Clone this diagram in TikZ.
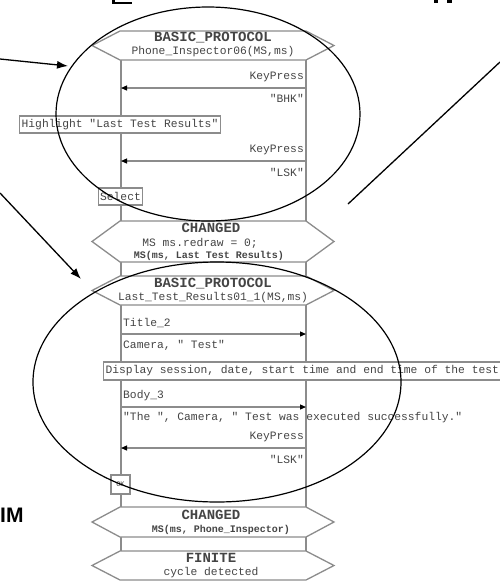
\documentclass[tikz,border=0pt]{standalone}
\usepackage{fontspec}
\setmainfont{Liberation Serif}
\setmonofont{Liberation Mono}
\newfontfamily\diagsans{Liberation Sans}
\usetikzlibrary{arrows.meta}

\definecolor{linegray}{HTML}{8C8C8C}
\definecolor{txtgray}{HTML}{444444}

\newcommand\msgfont{\ttfamily\fontsize{11.3}{12}\selectfont}
\newcommand\headfont{\ttfamily\bfseries\fontsize{14}{15}\selectfont}
\newcommand\statefont{\ttfamily\bfseries\fontsize{10}{11}\selectfont}

% hexagonal condition frame between the two lifelines: top y, bottom y
\newcommand\hexframe[2]{%
  \draw[hexline] (92,{(#1+#2)/2}) -- (120,#1) -- (306,#1) -- (334,{(#1+#2)/2})
    -- (306,#2) -- (120,#2) -- cycle;}

\begin{document}
\begin{tikzpicture}[x=1pt,y=-1pt,
  lifeline/.style={draw=linegray,line width=1.5pt},
  hexline/.style={draw=linegray,line width=1.3pt,fill=white},
  msgtext/.style={font=\msgfont,text=txtgray,inner sep=0pt},
  headtext/.style={font=\headfont,text=txtgray,inner sep=0pt},
  statetext/.style={font=\statefont,text=txtgray,inner sep=0pt},
  notebox/.style={draw=linegray,line width=1.3pt,fill=white,font=\msgfont,
    text=txtgray,inner xsep=2pt,inner ysep=0pt,minimum height=17pt},
  msgarrow/.style={draw=linegray,line width=1.2pt,
    -{Triangle[length=6pt,width=5pt,color=black]}},
  ring/.style={draw=black,line width=1.2pt},
  pointer/.style={draw=black,line width=1.3pt,-{Latex[length=11pt,width=8pt]}},
  plainline/.style={draw=black,line width=1.3pt}]

\useasboundingbox (0,0) rectangle (500,582);

% lower ends of heading glyphs cut off by the top edge
\fill (112,0) rectangle (115,4);
\fill (112,2) rectangle (132,4);
\fill (434,0) rectangle (438,3);
\fill (447,0) rectangle (452,3);

% lifelines
\coordinate (lt) at (121,60);
\coordinate (lb) at (121,551);
\coordinate (rt) at (306,60);
\coordinate (rb) at (306,551);
\draw[lifeline] (lt) -- (lb);
\draw[lifeline] (rt) -- (rb);

% condition frames
\hexframe{31}{60}
\node[headtext] (bp1) at (213,38) {BASIC\_PROTOCOL};
\node[msgtext] (bp1s) at (213,52) {Phone\_Inspector06(MS,ms)};

\hexframe{221}{262}
\node[headtext] (ch1) at (211,228) {CHANGED};
\node[msgtext] (ch1a) at (200,243) {MS ms.redraw = 0;};
\node[statetext] (ch1b) at (209,256) {MS(ms, Last Test Results)};

\hexframe{276}{305}
\node[headtext] (bp2) at (213,284) {BASIC\_PROTOCOL};
\node[msgtext] (bp2s) at (213,298) {Last\_Test\_Results01\_1(MS,ms)};

\hexframe{507}{537}
\node[headtext] (ch2) at (211,515) {CHANGED};
\node[statetext] (ch2b) at (221,530) {MS(ms, Phone\_Inspector)};

\hexframe{551}{580}
\node[headtext] (fin) at (211,558) {FINITE};
\node[msgtext] (fins) at (211,573) {cycle detected};

% messages
\node[msgtext,anchor=east] (kp1) at (304,77) {KeyPress};
\coordinate (m1r) at (306,88); \coordinate (m1l) at (121,88);
\draw[msgarrow] (m1r) -- (m1l);
\node[msgtext,anchor=east] (bhk) at (304,98) {"BHK"};

\node[notebox] (hl) at (120,124.5) {Highlight "Last Test Results"};

\node[msgtext,anchor=east] (kp2) at (304,150) {KeyPress};
\coordinate (m2r) at (306,161); \coordinate (m2l) at (121,161);
\draw[msgarrow] (m2r) -- (m2l);
\node[msgtext,anchor=east] (lsk1) at (304,172) {"LSK"};

\node[notebox] (sel) at (120.5,196.5) {Select};

\node[msgtext,anchor=west] (t2) at (123,323) {Title\_2};
\coordinate (m3l) at (121,334); \coordinate (m3r) at (306,334);
\draw[msgarrow] (m3l) -- (m3r);
\node[msgtext,anchor=west] (cam) at (123,345) {Camera, " Test"};

\node[notebox,anchor=west,minimum height=18pt] (disp) at (103,371)
  {Display session, date, start time and end time of the test};

\node[msgtext,anchor=west] (b3) at (123,396) {Body\_3};
\coordinate (m4l) at (121,407); \coordinate (m4r) at (306,407);
\draw[msgarrow] (m4l) -- (m4r);
\node[msgtext,anchor=west] (body) at (123,418)
  {"The ", Camera, " Test was executed successfully."};

\node[msgtext,anchor=east] (kp3) at (304,437) {KeyPress};
\coordinate (m5r) at (306,448); \coordinate (m5l) at (121,448);
\draw[msgarrow] (m5r) -- (m5l);
\node[msgtext,anchor=east] (lsk2) at (304,459) {"LSK"};

\node[draw=linegray,line width=1.3pt,fill=white,minimum width=19pt,
  minimum height=19pt,inner sep=0pt,font=\ttfamily\fontsize{7}{7}\selectfont,
  text=txtgray] (ok) at (120.5,484.5) {OK};

% highlight rings
\draw[ring] (208,114) ellipse [x radius=152pt, y radius=107pt];
\draw[ring] (217,382) ellipse [x radius=184pt, y radius=120pt];

% pointers
\coordinate (p1s) at (0,59);  \coordinate (p1e) at (68,66);
\draw[pointer] (p1s) -- (p1e);
\coordinate (p2s) at (0,193); \coordinate (p2e) at (81,279);
\draw[pointer] (p2s) -- (p2e);
\coordinate (p3s) at (500,62); \coordinate (p3e) at (348,204);
\draw[plainline] (p3s) -- (p3e);

\node[font=\diagsans\bfseries\fontsize{21}{21}\selectfont,inner sep=0pt,
  anchor=west] (im) at (0,515) {IM};
\end{tikzpicture}
\end{document}
